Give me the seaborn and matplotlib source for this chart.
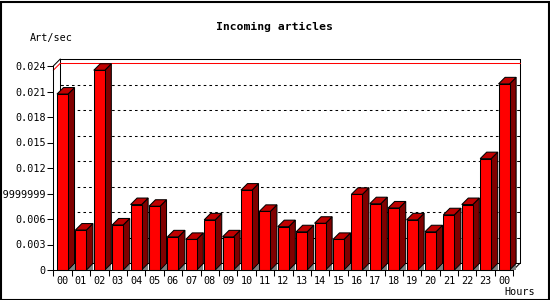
import matplotlib
matplotlib.use("Agg")
import matplotlib.pyplot as plt
import seaborn as sns
import pandas as pd
from matplotlib.patches import Polygon, Rectangle
from matplotlib.lines import Line2D

hours = ["00", "01", "02", "03", "04", "05", "06", "07", "08", "09", "10", "11",
         "12", "13", "14", "15", "16", "17", "18", "19", "20", "21", "22", "23", "00"]
values = [0.0207, 0.0047, 0.0235, 0.0053, 0.0077, 0.0075, 0.0039, 0.0036, 0.0059,
          0.0039, 0.0094, 0.0069, 0.0051, 0.0045, 0.0055, 0.0036, 0.0089, 0.0078,
          0.0073, 0.0059, 0.0045, 0.0065, 0.0077, 0.0131, 0.0219]
ytick_vals = [0, 0.003, 0.006, 0.009, 0.012, 0.015, 0.018, 0.021, 0.024]
ytick_labels = ["0", "0.003", "0.006", "0.0089999999", "0.012", "0.015", "0.018", "0.021", "0.024"]
title = "Incoming articles"
ylabel = "Art/sec"
xlabel = "Hours"

sns.set_theme(style="white")
plt.rcParams["font.family"] = ["DejaVu Sans Mono", "DejaVu Sans"]

LW = 0.75
W, H = 550, 300
fig = plt.figure(figsize=(5.5, 3.0), dpi=100)
fig.patch.set_facecolor("white")
ax = fig.add_axes([53.3 / W, 30 / H, 460 / W, 204 / H])
ax.set_facecolor("none")

df = pd.DataFrame({"pos": list(range(len(values))), "val": values})
sns.barplot(data=df, x="pos", y="val", width=0.6, color="#ff0000",
            saturation=1, edgecolor="black", linewidth=LW, ax=ax, zorder=3)

ymax = 0.024
ax.set_xlim(-0.5, len(values) - 0.5)
ax.set_ylim(0, ymax)

# depth offsets in data units
px_x = len(values) / 460.0
px_y = ymax / 204.0
dx = 6.5 * px_x
dy = 6.5 * px_y
bdx = 7 * px_x
bdy = 7 * px_y

x_left, x_right = -0.5, len(values) - 0.5

# back wall and grid
for v in ytick_vals[1:-1]:
    ax.add_line(Line2D([x_left + bdx, x_right + bdx], [v + bdy, v + bdy], color="black",
                       linestyle=(0, (2.5, 3)), linewidth=LW, zorder=1, clip_on=False))
    ax.add_line(Line2D([x_right + bdx - 3 * px_x, x_right + bdx], [v + bdy, v + bdy],
                       color="black", linewidth=LW, zorder=1, clip_on=False))
    ax.add_line(Line2D([x_left + bdx, x_left + bdx + 3 * px_x], [v + bdy, v + bdy],
                       color="black", linewidth=LW, zorder=1, clip_on=False))
frame = dict(color="black", linewidth=LW, zorder=1.5, clip_on=False)
ax.add_line(Line2D([x_left + bdx, x_right + bdx], [ymax + bdy, ymax + bdy], **frame))
ax.add_line(Line2D([x_left + bdx, x_left + bdx], [bdy, ymax + bdy], **frame))
ax.add_line(Line2D([x_right + bdx, x_right + bdx], [bdy, ymax + bdy], **frame))
ax.add_line(Line2D([x_left + bdx, x_right + bdx], [bdy, bdy], **frame))
ax.add_line(Line2D([x_left, x_left + bdx], [ymax, ymax + bdy], **frame))
ax.add_line(Line2D([x_right, x_right + bdx], [0, bdy], **frame))
# floor strip at right
ax.add_patch(Polygon([(x_right - 0.05, 0), (x_right, 0), (x_right + bdx, bdy), (x_right + bdx - 0.05, bdy)],
                     closed=True, facecolor="#c0c0c0", edgecolor="none", zorder=1, clip_on=False))

# max line (red)
vmax = max(values)
ax.add_line(Line2D([x_left, x_left + bdx], [vmax, vmax + bdy], color="#ff0000", linewidth=LW,
                   zorder=1.6, clip_on=False))
ax.add_line(Line2D([x_left + bdx, x_right + bdx], [vmax + bdy, vmax + bdy], color="#ff0000",
                   linewidth=LW, zorder=1.6, clip_on=False))

# 3D faces
for p in list(ax.patches):
    if not isinstance(p, Rectangle):
        continue
    x0 = p.get_x()
    w = p.get_width()
    h = p.get_height()
    if w <= 0 or w > 1:
        continue
    p.set_clip_on(False)
    shadow = Polygon([(x0 + w, 0), (x0 + w + dx, 0), (x0 + w + dx, dy)], closed=True,
                     facecolor="#808080", edgecolor="none", zorder=2, clip_on=False)
    side = Polygon([(x0 + w, 0), (x0 + w + dx, dy), (x0 + w + dx, h + dy), (x0 + w, h)],
                   closed=True, facecolor="#800000", edgecolor="black", linewidth=LW,
                   zorder=2.5, clip_on=False)
    top = Polygon([(x0, h), (x0 + dx, h + dy), (x0 + w + dx, h + dy), (x0 + w, h)],
                  closed=True, facecolor="#c00000", edgecolor="black", linewidth=LW,
                  zorder=2.5, clip_on=False)
    ax.add_patch(shadow)
    ax.add_patch(side)
    ax.add_patch(top)

# spines
for s in ["top", "right"]:
    ax.spines[s].set_visible(False)
for s in ["left", "bottom"]:
    ax.spines[s].set_color("black")
    ax.spines[s].set_linewidth(LW)
    ax.spines[s].set_zorder(4)

ax.grid(False)
ax.set_xlabel("")
ax.set_ylabel("")
ax.set_xticks(range(len(values)))
ax.set_xticklabels(hours, fontsize=7.3)
ax.set_xticks([i - 0.5 for i in range(len(values) + 1)], minor=True)
ax.tick_params(axis="x", which="major", length=0, pad=4, colors="black")
ax.tick_params(axis="x", which="minor", length=4, width=LW, direction="out", colors="black")
ax.set_yticks(ytick_vals)
ax.set_yticklabels(ytick_labels, fontsize=7.3)
ax.tick_params(axis="y", which="major", length=4, width=LW, direction="out", pad=1.5, colors="black",
               left=True)
ax.tick_params(axis="x", which="both", bottom=True)

fig.text(274 / W, 1 - 27 / H, title, ha="center", va="center", fontsize=8.2, fontweight="bold",
         color="black")
fig.text(30 / W, 1 - 38 / H, ylabel, ha="left", va="center", fontsize=7.3, color="black")
fig.text(504 / W, 1 - 292 / H, xlabel, ha="left", va="center", fontsize=7.3, color="black")

# image border
fig.add_artist(Rectangle((0.5 / W, 0.5 / H), 1 - 2.0 / W, 1 - 2.0 / H, transform=fig.transFigure,
                         fill=False, edgecolor="black", linewidth=1.5))

fig.savefig("out.png", dpi=100)
